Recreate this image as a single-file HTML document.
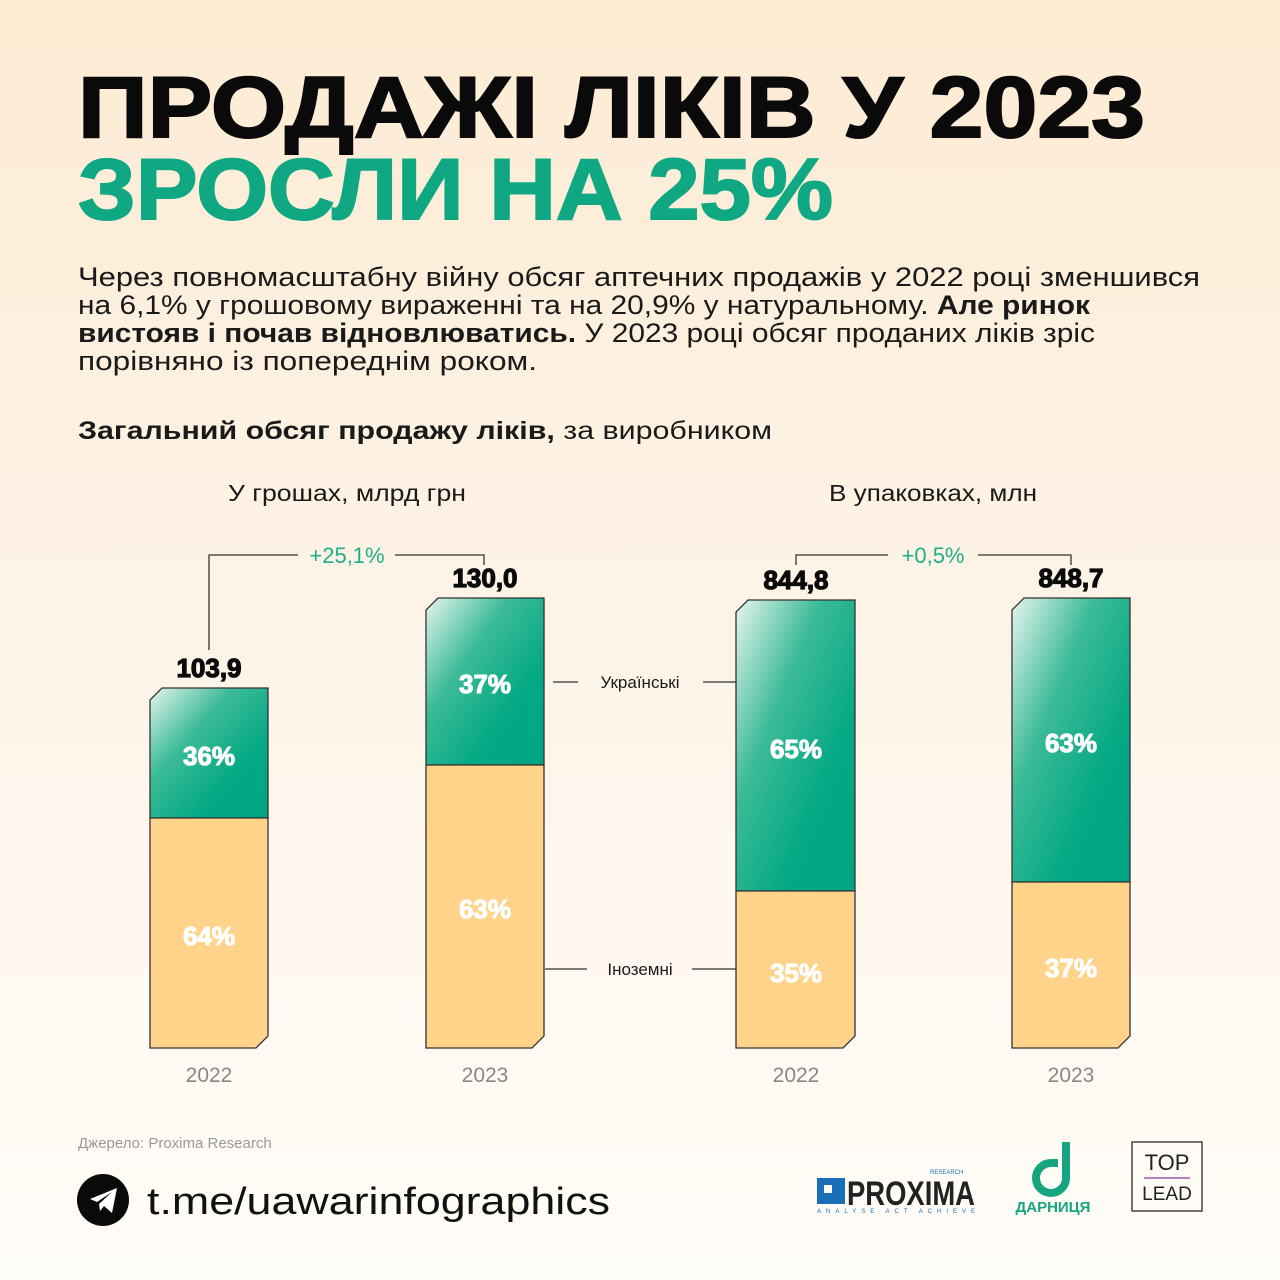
<!DOCTYPE html>
<html><head><meta charset="utf-8"><style>
html,body{margin:0;padding:0}
body{width:1280px;height:1280px;overflow:hidden;background:linear-gradient(180deg,#fdebd3 0%,#fdf3e6 45%,#fffdf9 100%)}
svg{display:block}
</style></head><body>
<svg width="1280" height="1280" viewBox="0 0 1280 1280" xmlns="http://www.w3.org/2000/svg" font-family="Liberation Sans, sans-serif">
<defs>
<linearGradient id="g" x1="0" y1="0" x2="1" y2="1">
<stop offset="0" stop-color="#e6f5ef"/><stop offset="0.35" stop-color="#3dbb98"/><stop offset="0.7" stop-color="#03a884"/><stop offset="1" stop-color="#00a683"/>
</linearGradient>
</defs>
<text x="78" y="137" font-size="86" font-weight="900" fill="#0a0a0a" textLength="1067" lengthAdjust="spacingAndGlyphs" stroke="#0a0a0a" stroke-width="2">ПРОДАЖІ ЛІКІВ У 2023</text>
<text x="78" y="219" font-size="86" font-weight="900" fill="#10a883" textLength="755" lengthAdjust="spacingAndGlyphs" stroke="#10a883" stroke-width="2">ЗРОСЛИ НА 25%</text>
<g font-size="27" fill="#1a1a1a">
<text x="78" y="286" textLength="1122" lengthAdjust="spacingAndGlyphs">Через повномасштабну війну обсяг аптечних продажів у 2022 році зменшився</text>
<text x="78" y="314" textLength="1012" lengthAdjust="spacingAndGlyphs">на 6,1% у грошовому вираженні та на 20,9% у натуральному. <tspan font-weight="bold">Але ринок</tspan></text>
<text x="78" y="342" textLength="1017" lengthAdjust="spacingAndGlyphs"><tspan font-weight="bold">вистояв і почав відновлюватись.</tspan> У 2023 році обсяг проданих ліків зріс</text>
<text x="78" y="370" textLength="459" lengthAdjust="spacingAndGlyphs">порівняно із попереднім роком.</text>
</g>
<text x="78" y="439" font-size="25" fill="#1a1a1a" textLength="694" lengthAdjust="spacingAndGlyphs"><tspan font-weight="bold">Загальний обсяг продажу ліків,</tspan> за виробником</text>
<g font-size="23" fill="#1a1a1a">
<text x="228" y="501" textLength="238" lengthAdjust="spacingAndGlyphs">У грошах, млрд грн</text>
<text x="829" y="501" textLength="208" lengthAdjust="spacingAndGlyphs">В упаковках, млн</text>
</g>
<g stroke="#333" stroke-width="1.3" fill="none">
<path d="M209 650 V555 H298 M395 555 H484 V565"/>
<path d="M796 565 V555 H888 M978 555 H1071 V565"/>
<path d="M553 682 H578 M703 682 H736"/>
<path d="M545 969 H587 M692 969 H736"/>
</g>
<g font-size="22" fill="#1fae86" text-anchor="middle">
<text x="347" y="563">+25,1%</text>
<text x="933" y="563">+0,5%</text>
</g>
<g font-size="17" fill="#1a1a1a" text-anchor="middle">
<text x="640" y="688">Українські</text>
<text x="640" y="975">Іноземні</text>
</g>
<g stroke="#333" stroke-width="1.3">
<path d="M162 688 H268 V818 H150 V700 Z" fill="url(#g)"/>
<path d="M150 818 H268 V1036 L256 1048 H150 Z" fill="#ffd48a"/>
<path d="M438 598 H544 V765 H426 V610 Z" fill="url(#g)"/>
<path d="M426 765 H544 V1036 L532 1048 H426 Z" fill="#ffd48a"/>
<path d="M748 600 H855 V891 H736 V612 Z" fill="url(#g)"/>
<path d="M736 891 H855 V1036 L843 1048 H736 Z" fill="#ffd48a"/>
<path d="M1024 598 H1130 V882 H1012 V610 Z" fill="url(#g)"/>
<path d="M1012 882 H1130 V1036 L1118 1048 H1012 Z" fill="#ffd48a"/>
</g>
<g font-size="26" font-weight="900" fill="#fff" text-anchor="middle" stroke="#fff" stroke-width="1">
<text x="209" y="765">36%</text><text x="209" y="945">64%</text>
<text x="485" y="693">37%</text><text x="485" y="918">63%</text>
<text x="796" y="758">65%</text><text x="796" y="982">35%</text>
<text x="1071" y="752">63%</text><text x="1071" y="977">37%</text>
</g>
<g font-size="26" font-weight="900" fill="#0a0a0a" text-anchor="middle" stroke="#0a0a0a" stroke-width="1.2">
<text x="209" y="677">103,9</text><text x="485" y="587">130,0</text>
<text x="796" y="589">844,8</text><text x="1071" y="587">848,7</text>
</g>
<g font-size="21" fill="#888" text-anchor="middle">
<text x="209" y="1082">2022</text><text x="485" y="1082">2023</text>
<text x="796" y="1082">2022</text><text x="1071" y="1082">2023</text>
</g>
<text x="78" y="1148" font-size="15" fill="#999">Джерело: Proxima Research</text>
<circle cx="103" cy="1200" r="26" fill="#0a0a0a"/>
<path d="M90 1199 L117 1188 L112 1213 L104 1206 L100 1211 L99 1204 L112 1192 L97 1202 Z" fill="#fff"/>
<text x="147" y="1214" font-size="38" fill="#111" textLength="463" lengthAdjust="spacingAndGlyphs">t.me/uawarinfographics</text>
<rect x="817" y="1178" width="28" height="26" fill="#1a6fb7"/>
<rect x="824" y="1185" width="8" height="8" fill="#fff"/>
<text x="847" y="1205" font-size="34" font-weight="bold" fill="#222" textLength="128" lengthAdjust="spacingAndGlyphs">PROXIMA</text>
<text x="930" y="1174" font-size="6" fill="#1a6fb7">RESEARCH</text>
<text x="817" y="1213" font-size="6" fill="#1a6fb7" textLength="158" lengthAdjust="spacing">ANALYSE ACT ACHIEVE</text>
<path d="M1066 1142 V1178 A15 15 0 1 1 1051 1163 H1058" fill="none" stroke="#16a57f" stroke-width="8"/>
<text x="1053" y="1212" font-size="15" font-weight="bold" fill="#16a57f" text-anchor="middle">ДАРНИЦЯ</text>
<rect x="1132" y="1142" width="70" height="69" fill="none" stroke="#444" stroke-width="1.5"/>
<text x="1167" y="1170" font-size="22" fill="#222" text-anchor="middle">TOP</text>
<line x1="1144" y1="1178" x2="1190" y2="1178" stroke="#8a3b9a" stroke-width="1.2"/>
<text x="1167" y="1200" font-size="19" fill="#222" text-anchor="middle">LEAD</text>
</svg>
</body></html>
